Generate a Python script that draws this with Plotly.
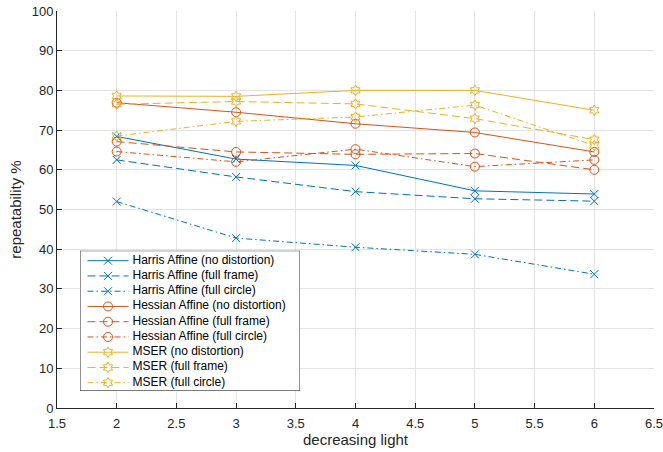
import plotly.graph_objects as go

x_levels = [2, 3, 4, 5, 6]

harris_none = [68.4, 62.7, 61.1, 54.7, 53.9]
harris_frame = [62.5, 58.2, 54.5, 52.7, 52.1]
harris_circle = [52.0, 42.8, 40.5, 38.7, 33.7]
hessian_none = [76.9, 74.5, 71.6, 69.4, 64.5]
hessian_frame = [67.1, 64.5, 63.9, 64.1, 60.0]
hessian_circle = [64.6, 62.0, 65.2, 60.8, 62.5]
mser_none = [78.6, 78.5, 80.0, 80.0, 75.0]
mser_frame = [76.5, 77.2, 76.6, 72.9, 67.6]
mser_circle = [68.5, 72.2, 73.3, 76.3, 66.1]

x_ticks = [1.5, 2, 2.5, 3, 3.5, 4, 4.5, 5, 5.5, 6, 6.5]
y_ticks = [0, 10, 20, 30, 40, 50, 60, 70, 80, 90, 100]

DASH = "8px,4px"
DASHDOT = "6px,3px,1.5px,3px"
BLUE, RED, YEL = "#0072BD", "#D95319", "#EDB120"

series = [
    ("Harris Affine (no distortion)", harris_none, BLUE, "x-thin-open", "solid", 8),
    ("Harris Affine (full frame)", harris_frame, BLUE, "x-thin-open", DASH, 8),
    ("Harris Affine (full circle)", harris_circle, BLUE, "x-thin-open", DASHDOT, 8),
    ("Hessian Affine (no distortion)", hessian_none, RED, "circle-open", "solid", 9),
    ("Hessian Affine (full frame)", hessian_frame, RED, "circle-open", DASH, 9),
    ("Hessian Affine (full circle)", hessian_circle, RED, "circle-open", DASHDOT, 9),
    ("MSER (no distortion)", mser_none, YEL, "hexagram-open", "solid", 8),
    ("MSER (full frame)", mser_frame, YEL, "hexagram-open", DASH, 8),
    ("MSER (full circle)", mser_circle, YEL, "hexagram-open", DASHDOT, 8),
]

W, H = 663, 452
ML, MR, MT, MB = 57, 9, 11, 44
PW, PH = W - ML - MR, H - MT - MB

fig = go.Figure()
for name, ys, color, sym, dash, msize in series:
    fig.add_trace(go.Scatter(
        x=x_levels, y=ys, name=name, mode="lines+markers",
        line=dict(color=color, width=1, dash=dash),
        marker=dict(symbol=sym, size=msize, color=color, line=dict(color=color, width=1)),
        showlegend=False, xaxis="x", yaxis="y",
    ))

# Legend box drawn as an inset axes (pixel coordinates of the figure)
LX0, LX1, LY0, LY1 = 80, 300, 250.7, 390.7
ROW0, ROWSTEP = 260.7, 15.25
for i, (name, ys, color, sym, dash, msize) in enumerate(series):
    ry = ROW0 + ROWSTEP * i
    fig.add_trace(go.Scatter(
        x=[87.5, 128.5], y=[ry, ry], mode="lines",
        line=dict(color=color, width=1, dash=dash),
        showlegend=False, hoverinfo="skip", xaxis="x2", yaxis="y2",
    ))
    fig.add_trace(go.Scatter(
        x=[108], y=[ry], mode="markers",
        marker=dict(symbol=sym, size=msize, color=color, line=dict(color=color, width=1)),
        showlegend=False, hoverinfo="skip", xaxis="x2", yaxis="y2",
    ))
    fig.add_trace(go.Scatter(
        x=[132.5], y=[ry], mode="text", text=[name], textposition="middle right",
        textfont=dict(size=12, color="#000000", family="Liberation Sans, Arial, sans-serif"),
        showlegend=False, hoverinfo="skip", xaxis="x2", yaxis="y2",
    ))

fig.add_shape(type="rect", xref="x2", yref="y2", x0=LX0, x1=LX1, y0=LY0, y1=LY1,
              fillcolor="white", line=dict(color="#262626", width=1), layer="between")

axis_common = dict(
    showgrid=True, gridcolor="#e3e3e3", gridwidth=1,
    showline=True, linecolor="#262626", linewidth=1,
    ticks="inside", ticklen=5, tickcolor="#262626",
    zeroline=False, mirror=False, automargin=False,
    tickfont=dict(size=13, color="#262626"),
    ticklabeloverflow="allow",
)

fig.update_layout(
    width=W, height=H,
    margin=dict(l=ML, r=MR, t=MT, b=MB),
    paper_bgcolor="white", plot_bgcolor="white",
    font=dict(family="Liberation Sans, Arial, sans-serif", size=13, color="#262626"),
    showlegend=False,
    xaxis=dict(
        range=[1.5, 6.5], tickvals=x_ticks, ticktext=[f"{v:g}" for v in x_ticks],
        ticklabelstandoff=3,
        title=dict(text="decreasing light", font=dict(size=15), standoff=2),
        **axis_common,
    ),
    yaxis=dict(
        range=[0, 100], tickvals=y_ticks,
        title=dict(text="repeatability %", font=dict(size=15), standoff=6),
        **axis_common,
    ),
    xaxis2=dict(
        domain=[(LX0 - ML) / PW, (LX1 - ML) / PW], range=[LX0, LX1],
        visible=False, anchor="y2", fixedrange=True,
    ),
    yaxis2=dict(
        domain=[(H - MB - LY1) / PH, (H - MB - LY0) / PH], range=[LY1, LY0],
        visible=False, anchor="x2", fixedrange=True,
    ),
)

fig.write_html("out.html")
